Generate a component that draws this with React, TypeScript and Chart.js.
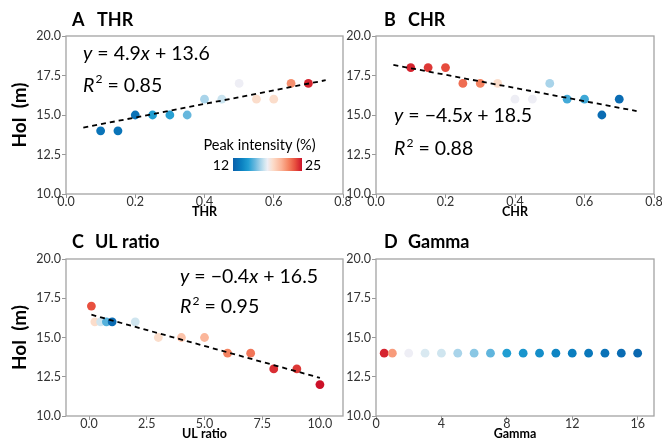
import React, { useEffect, useRef } from 'react';
import { Chart, registerables } from 'chart.js';
Chart.register(...registerables);

const FONT = 'Lato, "Noto Sans", sans-serif';

// ---- Data ----
const yTicks = [10, 12.5, 15, 17.5, 20];

const thrX = [0.1, 0.15, 0.2, 0.25, 0.3, 0.35, 0.4, 0.45, 0.5, 0.55, 0.6, 0.65, 0.7];
const thrY = [14, 14, 15, 15, 15, 15, 16, 16, 17, 16, 16, 17, 17];
const thrPeak = [13, 13, 12.9, 14.9, 15.0, 16.1, 17.2, 17.8, 18.5, 19.5, 19.5, 22.1, 24.6];
const thrFitX = [0.05, 0.75];
const thrFitY = [14.2, 17.2];
const thrTicks = [0, 0.2, 0.4, 0.6, 0.8];

const chrX = [0.1, 0.15, 0.2, 0.25, 0.3, 0.35, 0.4, 0.45, 0.5, 0.55, 0.6, 0.65, 0.7];
const chrY = [18, 18, 18, 17, 17, 17, 16, 16, 17, 16, 16, 15, 16];
const chrPeak = [24.6, 24.2, 23.8, 23.0, 22.5, 19.5, 18.5, 18.5, 17.2, 15.5, 15.4, 12.6, 12.6];
const chrFitX = [0.05, 0.75];
const chrFitY = [18.17, 15.25];
const chrTicks = [0, 0.2, 0.4, 0.6, 0.8];

const ulX = [0.1, 0.25, 0.5, 0.75, 1, 2, 3, 4, 5, 6, 7, 8, 9, 10];
const ulY = [17, 16, 16, 16, 16, 16, 15, 15, 15, 14, 14, 13, 13, 12];
const ulPeak = [23.7, 19.5, 17.9, 15.8, 12.6, 17.9, 19.5, 20.5, 21.0, 22.5, 22.8, 24.4, 24.2, 25];
const ulFitX = [0.1, 10];
const ulFitY = [16.45, 12.43];
const ulTicks = [0, 2.5, 5, 7.5, 10];

const gamX = [0.5, 1, 2, 3, 4, 5, 6, 7, 8, 9, 10, 11, 12, 13, 14, 15, 16];
const gamY = [14, 14, 14, 14, 14, 14, 14, 14, 14, 14, 14, 14, 14, 14, 14, 14, 14];
const gamPeak = [24.6, 21.8, 18.5, 18.1, 17.9, 17.2, 16.7, 16.0, 14.9, 14.5, 14.2, 13.8, 13.5, 13.2, 12.9, 12.6, 12.4];
const gamTicks = [0, 4, 8, 12, 16];

const peakMin = 12;
const peakMax = 25;

// ---- Colormap (RdBu reversed) ----
const cmapStops: [number, string][] = [
  [0, '#0a60ab'],
  [0.12, '#0a7fc0'],
  [0.22, '#1f9dd2'],
  [0.32, '#69b8de'],
  [0.4, '#a9d4ea'],
  [0.46, '#d3e7f0'],
  [0.5, '#eeeef5'],
  [0.58, '#fcdcc9'],
  [0.7, '#fbb397'],
  [0.8, '#f58663'],
  [0.9, '#e8503f'],
  [1, '#cc1128'],
];
const hex = (h: string) => [parseInt(h.slice(1, 3), 16), parseInt(h.slice(3, 5), 16), parseInt(h.slice(5, 7), 16)];
function cmap(t: number) {
  t = Math.max(0, Math.min(1, t));
  for (let i = 0; i < cmapStops.length - 1; i++) {
    const [t0, c0] = cmapStops[i];
    const [t1, c1] = cmapStops[i + 1];
    if (t >= t0 && t <= t1) {
      const f = (t - t0) / (t1 - t0);
      const a = hex(c0), b = hex(c1);
      const c = a.map((v, k) => Math.round(v + (b[k] - v) * f));
      return `rgb(${c[0]},${c[1]},${c[2]})`;
    }
  }
  return cmapStops[cmapStops.length - 1][1];
}
const peakColor = (v: number) => cmap((v - peakMin) / (peakMax - peakMin));

const W = 662, H = 445;
const YW = 50, XH = 20;

type Seg = [string, string];
function drawRich(ctx: CanvasRenderingContext2D, x: number, y: number, segs: Seg[], size: number) {
  let cx = x;
  ctx.textBaseline = 'alphabetic';
  ctx.textAlign = 'left';
  ctx.fillStyle = '#000';
  for (const [t, st] of segs) {
    if (st === 'sup') {
      ctx.font = `${size * 0.62}px ${FONT}`;
      ctx.fillText(t, cx + 1, y - size * 0.42);
      cx += ctx.measureText(t).width + 1;
    } else {
      ctx.font = `${st === 'i' ? 'italic ' : ''}${size}px ${FONT}`;
      ctx.fillText(t, cx, y);
      cx += ctx.measureText(t).width;
    }
  }
}

interface Panel {
  letter: string; name: string;
  xs: number[]; ys: number[]; peaks: number[];
  fitX?: number[]; fitY?: number[];
  xMin: number; xMax: number; xTicks: number[]; dec: number;
  area: { l: number; r: number; t: number; b: number };
  yTitle: boolean;
  eq?: { x: number; y1: number; y2: number; slope: string; intercept: string; r2: string };
  colorbar?: boolean;
  letterX: number; nameX: number; titleY: number;
}

const panels: Panel[] = [
  { letter: 'A', name: 'THR', xs: thrX, ys: thrY, peaks: thrPeak, fitX: thrFitX, fitY: thrFitY,
    xMin: 0, xMax: 0.8, xTicks: thrTicks, dec: 1, area: { l: 66, r: 343, t: 36, b: 194 }, yTitle: true,
    eq: { x: 83, y1: 59.5, y2: 91.5, slope: '4.9', intercept: '13.6', r2: '0.85' }, colorbar: true,
    letterX: 72, nameX: 97, titleY: 26 },
  { letter: 'B', name: 'CHR', xs: chrX, ys: chrY, peaks: chrPeak, fitX: chrFitX, fitY: chrFitY,
    xMin: 0, xMax: 0.8, xTicks: chrTicks, dec: 1, area: { l: 376, r: 654, t: 36, b: 194 }, yTitle: false,
    eq: { x: 394, y1: 122, y2: 155, slope: '\u22124.5', intercept: '18.5', r2: '0.88' },
    letterX: 384, nameX: 408, titleY: 26 },
  { letter: 'C', name: 'UL ratio', xs: ulX, ys: ulY, peaks: ulPeak, fitX: ulFitX, fitY: ulFitY,
    xMin: -1, xMax: 11, xTicks: ulTicks, dec: 1, area: { l: 66, r: 343, t: 259, b: 416 }, yTitle: true,
    eq: { x: 180, y1: 283, y2: 313, slope: '\u22120.4', intercept: '16.5', r2: '0.95' },
    letterX: 72, nameX: 95, titleY: 248 },
  { letter: 'D', name: 'Gamma', xs: gamX, ys: gamY, peaks: gamPeak,
    xMin: 0, xMax: 17, xTicks: gamTicks, dec: 0, area: { l: 376, r: 654, t: 259, b: 416 }, yTitle: false,
    letterX: 384, nameX: 408, titleY: 248 },
];

function makeChart(canvas: HTMLCanvasElement, p: Panel) {
  const datasets: any[] = [
    {
      type: 'scatter',
      data: p.xs.map((x, i) => ({ x, y: p.ys[i] })),
      backgroundColor: p.peaks.map(peakColor),
      borderWidth: 0,
      pointRadius: 4.4,
      order: 2,
    },
  ];
  if (p.fitX && p.fitY) {
    datasets.push({
      type: 'line',
      data: p.fitX.map((x, i) => ({ x, y: p.fitY![i] })),
      borderColor: '#000',
      borderWidth: 1.8,
      borderDash: [5, 4],
      pointRadius: 0,
      fill: false,
      order: 1,
    });
  }
  const deco = {
    id: 'deco',
    afterDraw(chart: any) {
      const ctx: CanvasRenderingContext2D = chart.ctx;
      const a = chart.chartArea;
      ctx.save();
      // frame
      ctx.strokeStyle = '#a3a3a3';
      ctx.lineWidth = 1.3;
      ctx.strokeRect(a.left, a.top, a.right - a.left, a.bottom - a.top);
      // panel title
      ctx.fillStyle = '#000';
      ctx.textBaseline = 'alphabetic';
      ctx.textAlign = 'left';
      ctx.font = `bold 18px ${FONT}`;
      ctx.fillText(p.letter, p.letterX, p.titleY);
      ctx.fillText(p.name, p.nameX, p.titleY);
      // x title
      ctx.textAlign = 'center';
      ctx.font = `bold 12.5px ${FONT}`;
      ctx.fillText(p.name, (a.left + a.right) / 2, a.bottom + 22);
      // y title
      if (p.yTitle) {
        ctx.save();
        ctx.translate(25.5, (a.top + a.bottom) / 2);
        ctx.rotate(-Math.PI / 2);
        ctx.textAlign = 'center';
        ctx.font = `bold 19px ${FONT}`;
        ctx.fillText('Hol  (m)', 0, 0);
        ctx.restore();
      }
      // equation
      if (p.eq) {
        const e = p.eq;
        drawRich(ctx, e.x, e.y1, [['y', 'i'], [` = ${e.slope}`, 'n'], ['x', 'i'], [` + ${e.intercept}`, 'n']], 19.5);
        drawRich(ctx, e.x, e.y2, [['R', 'i'], ['2', 'sup'], [` = ${e.r2}`, 'n']], 19.5);
      }
      // colorbar
      if (p.colorbar) {
        const x0 = 233, x1 = 302, y0 = 158, y1 = 171;
        const g = ctx.createLinearGradient(x0, 0, x1, 0);
        for (let i = 0; i <= 40; i++) g.addColorStop(i / 40, cmap(i / 40));
        ctx.fillStyle = g;
        ctx.fillRect(x0, y0, x1 - x0, y1 - y0);
        ctx.fillStyle = '#000';
        ctx.font = `14.5px ${FONT}`;
        ctx.textAlign = 'center';
        ctx.textBaseline = 'middle';
        ctx.fillText('Peak intensity (%)', 259.5, 145);
        ctx.font = `14px ${FONT}`;
        ctx.textAlign = 'right';
        ctx.fillText(String(peakMin), 229, 165);
        ctx.textAlign = 'left';
        ctx.fillText(String(peakMax), 305, 165);
      }
      ctx.restore();
    },
  };
  return new Chart(canvas, {
    type: 'scatter',
    data: { datasets },
    plugins: [deco],
    options: {
      responsive: false,
      animation: false,
      devicePixelRatio: 1,
      layout: {
        padding: {
          left: p.area.l - YW,
          right: W - p.area.r,
          top: p.area.t,
          bottom: H - p.area.b - XH,
        },
      },
      plugins: { legend: { display: false }, tooltip: { enabled: false }, title: { display: false } },
      scales: {
        x: {
          type: 'linear',
          min: p.xMin,
          max: p.xMax,
          afterBuildTicks: (s: any) => { s.ticks = p.xTicks.map((v) => ({ value: v })); },
          afterFit: (s: any) => { s.height = XH; s.paddingLeft = 0; s.paddingRight = 0; },
          ticks: {
            autoSkip: false, maxRotation: 0, padding: -4, color: '#333',
            font: { family: FONT, size: 12.5 },
            callback: (v: any) => Number(v).toFixed(p.dec),
          },
          grid: { display: true, drawOnChartArea: false, drawTicks: true, tickLength: 4, color: '#999' },
          border: { display: false },
        },
        y: {
          type: 'linear',
          min: 10,
          max: 20,
          afterBuildTicks: (s: any) => { s.ticks = yTicks.map((v) => ({ value: v })); },
          afterFit: (s: any) => { s.width = YW; s.paddingTop = 0; s.paddingBottom = 0; },
          ticks: {
            autoSkip: false, padding: 1, color: '#333',
            font: { family: FONT, size: 12.5 },
            callback: (v: any) => Number(v).toFixed(1),
          },
          grid: { display: true, drawOnChartArea: false, drawTicks: true, tickLength: 4, color: '#999' },
          border: { display: false },
        },
      },
    },
  } as any);
}

function PanelCanvas({ p }: { p: Panel }) {
  const ref = useRef<HTMLCanvasElement>(null);
  useEffect(() => {
    const c = makeChart(ref.current!, p);
    return () => c.destroy();
  }, [p]);
  return (
    <canvas ref={ref} width={W} height={H}
      style={{ position: 'absolute', left: 0, top: 0, width: W, height: H }} />
  );
}

export default function App() {
  return (
    <div style={{ position: 'absolute', left: 0, top: 0, width: W, height: H, background: '#fff' }}>
      {panels.map((p) => <PanelCanvas key={p.letter} p={p} />)}
    </div>
  );
}
